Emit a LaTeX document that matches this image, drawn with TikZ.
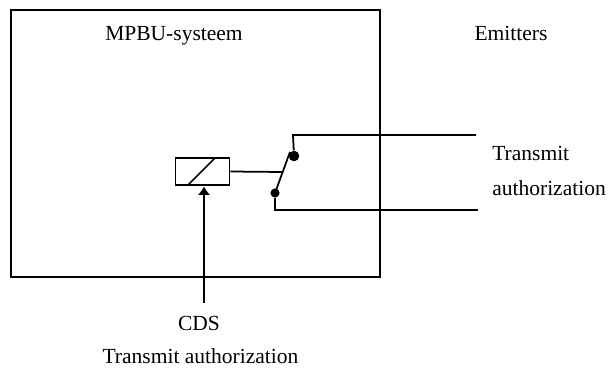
\documentclass[tikz,border=0pt]{standalone}
\usepackage{fontspec}
\setmainfont{Liberation Serif}
\usetikzlibrary{arrows.meta}
\tikzset{
    label/.style={font=\fontsize{15.3pt}{18pt}\selectfont,inner sep=0pt},
    wire/.style={line width=1.25pt},
    contact/.style={shape=circle,fill=black,inner sep=0pt,minimum size=7.5pt}
}
\begin{document}
\begin{tikzpicture}[x=0.025cm,y=-0.025cm]
    \useasboundingbox (0,0) rectangle (613,368);
    \node[shape=rectangle,draw=black,wire,minimum width=369*0.025cm,minimum height=267*0.025cm] (system) at (195.5,143.5) {};
    \node[shape=rectangle,draw=black,line width=1.4pt,minimum width=54*0.025cm,minimum height=27*0.025cm] (relay) at (202.5,171.5) {};
    \node[contact] (upper) at (294,156) {};
    \node[contact,minimum size=6.5pt] (lower) at (275,193) {};
    \node[label] (title) at (174,35.5) {MPBU-systeem};
    \node[label] (emitters) at (511,33) {Emitters};
    \node[label,anchor=west] (transmit) at (492,153) {Transmit};
    \node[label,anchor=west] (auth) at (492,188) {authorization};
    \node[label] (cds) at (199,323) {CDS};
    \node[label] (cdsauth) at (200.5,356.5) {Transmit authorization};
    \coordinate (source) at (204,303);
    \coordinate (sink) at (204,186.5);
    \coordinate (bladetop) at (290,152);
    \coordinate (bladebot) at (275,193);
    \coordinate (joint) at (282,172);
    \coordinate (uppercorner) at (293,135);
    \coordinate (upperend) at (476,135);
    \coordinate (lowercorner) at (275,210);
    \coordinate (lowerend) at (478,210);
    \coordinate (slashbot) at (188,185);
    \coordinate (slashtop) at (215,158);
    \path [-{Latex[length=6pt,width=9pt]}] (source) edge[wire] node[] {} (sink);
    \draw[wire] (slashbot) -- (slashtop);
    \draw[wire] (relay.east) -- (joint);
    \draw[wire] (bladebot) -- (bladetop);
    \draw[wire] (upper) -- (uppercorner) -- (upperend);
    \draw[wire] (lower) -- (lowercorner) -- (lowerend);
    \end{tikzpicture}
\end{document}
